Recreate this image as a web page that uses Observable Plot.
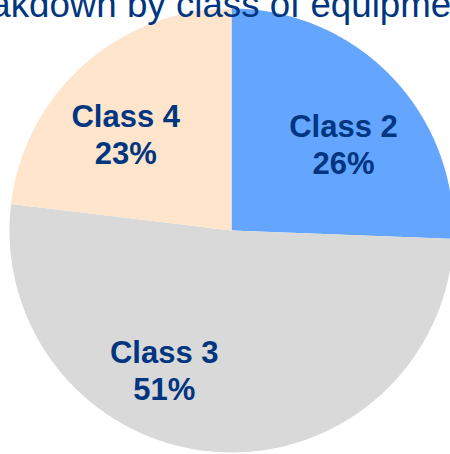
<!DOCTYPE html>
<html>
<head>
<meta charset="utf-8">
<script src="https://cdn.jsdelivr.net/npm/d3@7"></script>
<script src="https://cdn.jsdelivr.net/npm/@observablehq/plot@0.6"></script>
<style>
  html, body { margin: 0; padding: 0; background: #fff; overflow: hidden; }
  #chart svg { display: block; }
</style>
</head>
<body>
<div id="chart"></div>
<script>
// ---- data ----
const title = "Breakdown by class of equipment";
const categories = ["Class 2", "Class 3", "Class 4"];
const shares = [25.6, 51.3, 23.1];          // percent of total, clockwise from 12 o'clock
const shareLabels = ["26%", "51%", "23%"];

// ---- style / layout ----
const colors = ["#63A5FF", "#D9D9D9", "#FEE5CC"];
const textColor = "#003580";
const labelNudge = [[8, 13], [-56, -5], [-10, 11]]; // px nudges like Excel "best fit"

// build slice polygons from data
const pie = d3.pie().sort(null).value(d => d.value)(
  categories.map((c, i) => ({name: c, value: shares[i], label: shareLabels[i], i}))
);
const pts = [];
for (const s of pie) {
  const steps = Math.max(2, Math.ceil((s.endAngle - s.startAngle) / 0.005));
  pts.push({name: s.data.name, x: 0, y: 0});
  for (let k = 0; k <= steps; k++) {
    const a = s.startAngle + (s.endAngle - s.startAngle) * k / steps;
    pts.push({name: s.data.name, x: Math.sin(a), y: Math.cos(a)});
  }
}
const labels = pie.map(s => {
  const a = (s.startAngle + s.endAngle) / 2;
  return {
    text: s.data.name + "\n" + s.data.label,
    x: 0.65 * Math.sin(a), y: 0.65 * Math.cos(a),
    dx: labelNudge[s.data.i][0], dy: labelNudge[s.data.i][1]
  };
});

const font = "'Liberation Sans', Arial, Helvetica, sans-serif";
const chart = Plot.plot({
  width: 450,
  height: 454,
  margin: 0,
  style: {fontFamily: font, background: "#fff"},
  x: {domain: [-1, 1], range: [9, 453], axis: null},
  y: {domain: [-1, 1], range: [452, 8], axis: null},
  color: {domain: categories, range: colors},
  marks: [
    Plot.line(pts, {x: "x", y: "y", z: "name", fill: "name", stroke: null, curve: "linear-closed"}),
    ...labels.map(l => Plot.text([l], {
      x: "x", y: "y", text: "text", dx: l.dx, dy: l.dy,
      fill: textColor, fontSize: 31, fontWeight: "bold", lineHeight: 1.2,
      textAnchor: "middle", lineAnchor: "middle"
    })),
    Plot.text([title], {
      frameAnchor: "top", text: d => d, dx: -18, dy: 5,
      fill: textColor, fontSize: 36.7, textAnchor: "middle", lineAnchor: "middle"
    })
  ]
});
document.getElementById("chart").appendChild(chart);
</script>
</body>
</html>
